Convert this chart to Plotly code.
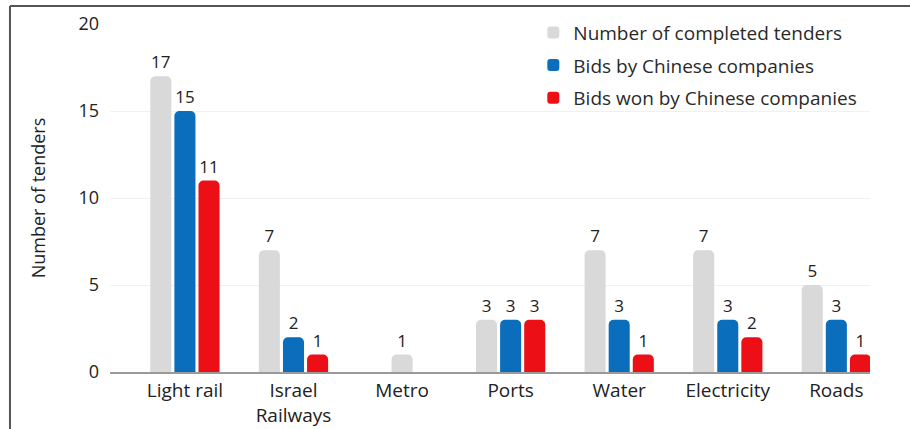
import plotly.graph_objects as go

categories = ["Light rail", "Israel<br>Railways", "Metro", "Ports", "Water", "Electricity", "Roads"]
completed = [17, 7, 1, 3, 7, 7, 5]
bids = [15, 2, 0, 3, 3, 3, 3]
won = [11, 1, 0, 3, 1, 2, 1]
series_names = ["Number of completed tenders", "Bids by Chinese companies", "Bids won by Chinese companies"]
colors = ["#d9d9d9", "#0a6ebd", "#ec1016"]
y_ticks = [0, 5, 10, 15, 20]

series = [completed, bids, won]
BW = 0.194
GAP = 0.028
FONT = "Open Sans"

# per-category offsets: only non-zero bars are drawn and centered in the group
offsets = [[None] * len(categories) for _ in series]
for ci in range(len(categories)):
    present = [si for si in range(len(series)) if series[si][ci] > 0]
    n = len(present)
    total = n * BW + (n - 1) * GAP
    start = -total / 2
    for k, si in enumerate(present):
        offsets[si][ci] = start + k * (BW + GAP)
for si in range(len(series)):
    offsets[si] = [o if o is not None else 0 for o in offsets[si]]

fig = go.Figure()
for si, (name, vals, col) in enumerate(zip(series_names, series, colors)):
    fig.add_trace(go.Bar(
        x=categories, y=vals, name=name, legendgroup=f"g{si}",
        marker=dict(color=col, line=dict(width=0)),
        width=BW, offset=offsets[si],
        text=[str(v) if v > 0 else "" for v in vals],
        textposition="outside", cliponaxis=False,
        textfont=dict(size=17, color="#222222", family=FONT),
    ))

fig.update_layout(
    width=910, height=429,
    barmode="overlay",
    barcornerradius=5,
    plot_bgcolor="white", paper_bgcolor="white",
    margin=dict(l=110, r=40, t=24, b=57),
    font=dict(family=FONT, size=18, color="#222222"),
    showlegend=True,
    legend=dict(
        x=0.557, y=1.03, xanchor="left", yanchor="top",
        bgcolor="rgba(0,0,0,0)",
        font=dict(size=19, color="#2a2a2a", family=FONT),
        itemwidth=30, tracegroupgap=5,
        traceorder="grouped",
    ),
    xaxis=dict(
        showgrid=False, showline=True, linecolor="#9a9a9a", linewidth=2,
        ticks="", tickfont=dict(size=19, color="#222222"), automargin=False,
        range=[-0.69, len(categories) - 0.69],
    ),
    yaxis=dict(
        range=[0, 20], tickvals=y_ticks, showgrid=True, gridcolor="#f0f0f0",
        zeroline=False, showline=False, ticks="", ticklabelstandoff=10,
        tickfont=dict(size=18, color="#222222"), automargin=False,
        title=dict(text="Number of tenders", font=dict(size=18, color="#222222"), standoff=28),
    ),
    shapes=[
        dict(type="line", xref="paper", yref="paper", x0=-0.1316, x1=1.06, y0=1.052, y1=1.052,
             line=dict(color="#555555", width=2)),
        dict(type="line", xref="paper", yref="paper", x0=-0.1316, x1=-0.1316, y0=1.052, y1=-0.17,
             line=dict(color="#555555", width=2)),
    ],
)

fig.write_html("out.html")
